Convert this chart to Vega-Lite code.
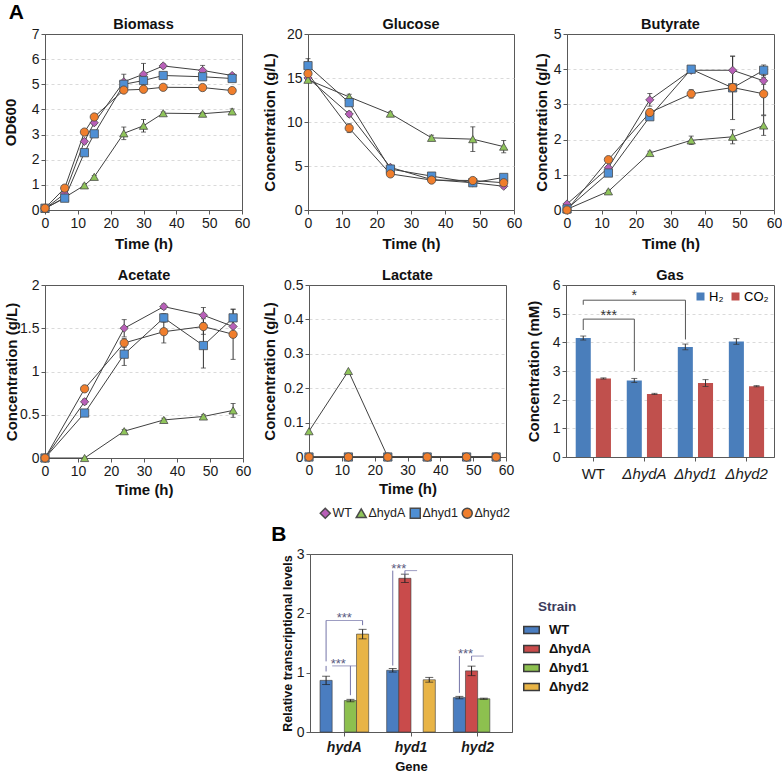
{
  "$schema": "https://vega.github.io/schema/vega-lite/v6.json",
  "padding": {"left": 2, "top": 2, "right": 0, "bottom": 0},
  "title": {"text": "A", "anchor": "start", "frame": "bounds", "fontSize": 21, "fontWeight": "bold", "offset": -7, "dx": 6, "color": "#000"},
  "datasets": {
    "g": [
      {"p":"Biomass","s":"WT","t":0,"v":0.05,"e":0.02},{"p":"Biomass","s":"WT","t":6,"v":0.65,"e":0.05},{"p":"Biomass","s":"WT","t":12,"v":2.73,"e":0.1},{"p":"Biomass","s":"WT","t":15,"v":3.47,"e":0.08},{"p":"Biomass","s":"WT","t":24,"v":5.1,"e":0.3},{"p":"Biomass","s":"WT","t":30,"v":5.4,"e":0.43},{"p":"Biomass","s":"WT","t":36,"v":5.73,"e":0.08},{"p":"Biomass","s":"WT","t":48,"v":5.55,"e":0.2},{"p":"Biomass","s":"WT","t":57,"v":5.35,"e":0.07},
      {"p":"Biomass","s":"ΔhydA","t":0,"v":0.05,"e":0.02},{"p":"Biomass","s":"ΔhydA","t":6,"v":0.5,"e":0.03},{"p":"Biomass","s":"ΔhydA","t":12,"v":0.98,"e":0.05},{"p":"Biomass","s":"ΔhydA","t":15,"v":1.32,"e":0.05},{"p":"Biomass","s":"ΔhydA","t":24,"v":3.05,"e":0.25},{"p":"Biomass","s":"ΔhydA","t":30,"v":3.35,"e":0.25},{"p":"Biomass","s":"ΔhydA","t":36,"v":3.85,"e":0.05},{"p":"Biomass","s":"ΔhydA","t":48,"v":3.83,"e":0.05},{"p":"Biomass","s":"ΔhydA","t":57,"v":3.92,"e":0.1},
      {"p":"Biomass","s":"Δhyd1","t":0,"v":0.07,"e":0.02},{"p":"Biomass","s":"Δhyd1","t":6,"v":0.47,"e":0.03},{"p":"Biomass","s":"Δhyd1","t":12,"v":2.28,"e":0.08},{"p":"Biomass","s":"Δhyd1","t":15,"v":3.03,"e":0.08},{"p":"Biomass","s":"Δhyd1","t":24,"v":5.0,"e":0.1},{"p":"Biomass","s":"Δhyd1","t":30,"v":5.15,"e":0.1},{"p":"Biomass","s":"Δhyd1","t":36,"v":5.35,"e":0.05},{"p":"Biomass","s":"Δhyd1","t":48,"v":5.3,"e":0.05},{"p":"Biomass","s":"Δhyd1","t":57,"v":5.23,"e":0.05},
      {"p":"Biomass","s":"Δhyd2","t":0,"v":0.07,"e":0.02},{"p":"Biomass","s":"Δhyd2","t":6,"v":0.87,"e":0.05},{"p":"Biomass","s":"Δhyd2","t":12,"v":3.1,"e":0.08},{"p":"Biomass","s":"Δhyd2","t":15,"v":3.7,"e":0.08},{"p":"Biomass","s":"Δhyd2","t":24,"v":4.77,"e":0.08},{"p":"Biomass","s":"Δhyd2","t":30,"v":4.8,"e":0.1},{"p":"Biomass","s":"Δhyd2","t":36,"v":4.88,"e":0.05},{"p":"Biomass","s":"Δhyd2","t":48,"v":4.87,"e":0.1},{"p":"Biomass","s":"Δhyd2","t":57,"v":4.75,"e":0.05},
      {"p":"Glucose","s":"WT","t":0,"v":15.0,"e":0.3},{"p":"Glucose","s":"WT","t":12,"v":10.9,"e":0.3},{"p":"Glucose","s":"WT","t":24,"v":4.85,"e":0.2},{"p":"Glucose","s":"WT","t":36,"v":3.45,"e":0.1},{"p":"Glucose","s":"WT","t":48,"v":3.1,"e":0.2},{"p":"Glucose","s":"WT","t":57,"v":2.7,"e":0.2},
      {"p":"Glucose","s":"ΔhydA","t":0,"v":14.8,"e":0.3},{"p":"Glucose","s":"ΔhydA","t":12,"v":12.85,"e":0.3},{"p":"Glucose","s":"ΔhydA","t":24,"v":10.95,"e":0.2},{"p":"Glucose","s":"ΔhydA","t":36,"v":8.2,"e":0.3},{"p":"Glucose","s":"ΔhydA","t":48,"v":8.05,"e":1.4},{"p":"Glucose","s":"ΔhydA","t":57,"v":7.2,"e":0.7},
      {"p":"Glucose","s":"Δhyd1","t":0,"v":16.4,"e":0.8},{"p":"Glucose","s":"Δhyd1","t":12,"v":12.2,"e":0.3},{"p":"Glucose","s":"Δhyd1","t":24,"v":4.65,"e":0.2},{"p":"Glucose","s":"Δhyd1","t":36,"v":3.85,"e":0.1},{"p":"Glucose","s":"Δhyd1","t":48,"v":3.1,"e":0.2},{"p":"Glucose","s":"Δhyd1","t":57,"v":3.7,"e":0.2},
      {"p":"Glucose","s":"Δhyd2","t":0,"v":15.5,"e":0.3},{"p":"Glucose","s":"Δhyd2","t":12,"v":9.3,"e":0.5},{"p":"Glucose","s":"Δhyd2","t":24,"v":4.1,"e":0.2},{"p":"Glucose","s":"Δhyd2","t":36,"v":3.4,"e":0.1},{"p":"Glucose","s":"Δhyd2","t":48,"v":3.35,"e":0.2},{"p":"Glucose","s":"Δhyd2","t":57,"v":3.1,"e":0.2},
      {"p":"Butyrate","s":"WT","t":0,"v":0.17,"e":0.02},{"p":"Butyrate","s":"WT","t":12,"v":1.2,"e":0.05},{"p":"Butyrate","s":"WT","t":24,"v":3.13,"e":0.18},{"p":"Butyrate","s":"WT","t":36,"v":3.97,"e":0.05},{"p":"Butyrate","s":"WT","t":48,"v":3.97,"e":0.4},{"p":"Butyrate","s":"WT","t":57,"v":3.67,"e":0.1},
      {"p":"Butyrate","s":"ΔhydA","t":0,"v":0.02,"e":0.01},{"p":"Butyrate","s":"ΔhydA","t":12,"v":0.53,"e":0.03},{"p":"Butyrate","s":"ΔhydA","t":24,"v":1.62,"e":0.05},{"p":"Butyrate","s":"ΔhydA","t":36,"v":1.98,"e":0.12},{"p":"Butyrate","s":"ΔhydA","t":48,"v":2.08,"e":0.2},{"p":"Butyrate","s":"ΔhydA","t":57,"v":2.4,"e":0.28},
      {"p":"Butyrate","s":"Δhyd1","t":0,"v":0.03,"e":0.01},{"p":"Butyrate","s":"Δhyd1","t":12,"v":1.05,"e":0.05},{"p":"Butyrate","s":"Δhyd1","t":24,"v":2.65,"e":0.08},{"p":"Butyrate","s":"Δhyd1","t":36,"v":4.0,"e":0.05},{"p":"Butyrate","s":"Δhyd1","t":48,"v":3.47,"e":0.9},{"p":"Butyrate","s":"Δhyd1","t":57,"v":3.97,"e":0.15},
      {"p":"Butyrate","s":"Δhyd2","t":0,"v":0.0,"e":0.0},{"p":"Butyrate","s":"Δhyd2","t":12,"v":1.43,"e":0.05},{"p":"Butyrate","s":"Δhyd2","t":24,"v":2.77,"e":0.05},{"p":"Butyrate","s":"Δhyd2","t":36,"v":3.3,"e":0.12},{"p":"Butyrate","s":"Δhyd2","t":48,"v":3.48,"e":0.1},{"p":"Butyrate","s":"Δhyd2","t":57,"v":3.3,"e":0.6},
      {"p":"Acetate","s":"WT","t":0,"v":0,"e":0},{"p":"Acetate","s":"WT","t":12,"v":0.65,"e":0.03},{"p":"Acetate","s":"WT","t":24,"v":1.5,"e":0.1},{"p":"Acetate","s":"WT","t":36,"v":1.75,"e":0.03},{"p":"Acetate","s":"WT","t":48,"v":1.65,"e":0.09},{"p":"Acetate","s":"WT","t":57,"v":1.52,"e":0.1},
      {"p":"Acetate","s":"ΔhydA","t":0,"v":0,"e":0},{"p":"Acetate","s":"ΔhydA","t":12,"v":0,"e":0},{"p":"Acetate","s":"ΔhydA","t":24,"v":0.31,"e":0.02},{"p":"Acetate","s":"ΔhydA","t":36,"v":0.44,"e":0.02},{"p":"Acetate","s":"ΔhydA","t":48,"v":0.48,"e":0.02},{"p":"Acetate","s":"ΔhydA","t":57,"v":0.55,"e":0.08},
      {"p":"Acetate","s":"Δhyd1","t":0,"v":0,"e":0},{"p":"Acetate","s":"Δhyd1","t":12,"v":0.52,"e":0.02},{"p":"Acetate","s":"Δhyd1","t":24,"v":1.2,"e":0.13},{"p":"Acetate","s":"Δhyd1","t":36,"v":1.62,"e":0.05},{"p":"Acetate","s":"Δhyd1","t":48,"v":1.3,"e":0.26},{"p":"Acetate","s":"Δhyd1","t":57,"v":1.62,"e":0.1},
      {"p":"Acetate","s":"Δhyd2","t":0,"v":0,"e":0},{"p":"Acetate","s":"Δhyd2","t":12,"v":0.8,"e":0.02},{"p":"Acetate","s":"Δhyd2","t":24,"v":1.33,"e":0.05},{"p":"Acetate","s":"Δhyd2","t":36,"v":1.46,"e":0.13},{"p":"Acetate","s":"Δhyd2","t":48,"v":1.52,"e":0.09},{"p":"Acetate","s":"Δhyd2","t":57,"v":1.43,"e":0.29},
      {"p":"Lactate","s":"WT","t":0,"v":0,"e":0},{"p":"Lactate","s":"WT","t":12,"v":0,"e":0},{"p":"Lactate","s":"WT","t":24,"v":0,"e":0},{"p":"Lactate","s":"WT","t":36,"v":0,"e":0},{"p":"Lactate","s":"WT","t":48,"v":0,"e":0},{"p":"Lactate","s":"WT","t":57,"v":0,"e":0},
      {"p":"Lactate","s":"ΔhydA","t":0,"v":0.075,"e":0},{"p":"Lactate","s":"ΔhydA","t":12,"v":0.25,"e":0},{"p":"Lactate","s":"ΔhydA","t":24,"v":0,"e":0},{"p":"Lactate","s":"ΔhydA","t":36,"v":0,"e":0},{"p":"Lactate","s":"ΔhydA","t":48,"v":0,"e":0},{"p":"Lactate","s":"ΔhydA","t":57,"v":0,"e":0},
      {"p":"Lactate","s":"Δhyd1","t":0,"v":0,"e":0},{"p":"Lactate","s":"Δhyd1","t":12,"v":0,"e":0},{"p":"Lactate","s":"Δhyd1","t":24,"v":0,"e":0},{"p":"Lactate","s":"Δhyd1","t":36,"v":0,"e":0},{"p":"Lactate","s":"Δhyd1","t":48,"v":0,"e":0},{"p":"Lactate","s":"Δhyd1","t":57,"v":0,"e":0},
      {"p":"Lactate","s":"Δhyd2","t":0,"v":0,"e":0},{"p":"Lactate","s":"Δhyd2","t":12,"v":0,"e":0},{"p":"Lactate","s":"Δhyd2","t":24,"v":0,"e":0},{"p":"Lactate","s":"Δhyd2","t":36,"v":0,"e":0},{"p":"Lactate","s":"Δhyd2","t":48,"v":0,"e":0},{"p":"Lactate","s":"Δhyd2","t":57,"v":0,"e":0}
    ],
    "gas": [
      {"s":"WT","g":"H₂","v":4.15,"lo":4.08,"hi":4.22},{"s":"WT","g":"CO₂","v":2.74,"lo":2.72,"hi":2.76},
      {"s":"ΔhydA","g":"H₂","v":2.67,"lo":2.6,"hi":2.74},{"s":"ΔhydA","g":"CO₂","v":2.2,"lo":2.18,"hi":2.22},
      {"s":"Δhyd1","g":"H₂","v":3.84,"lo":3.74,"hi":3.94},{"s":"Δhyd1","g":"CO₂","v":2.58,"lo":2.46,"hi":2.7},
      {"s":"Δhyd2","g":"H₂","v":4.03,"lo":3.93,"hi":4.13},{"s":"Δhyd2","g":"CO₂","v":2.47,"lo":2.45,"hi":2.49}
    ],
    "gb": [
      {"id":"a","s":"WT","y":4.43,"o":0},{"id":"a","s":"WT","y":4.81,"o":1},{"id":"a","s":"ΔhydA","y":4.81,"o":2},{"id":"a","s":"ΔhydA","y":3.0,"o":3},
      {"id":"b","s":"WT","y":5.31,"o":0},{"id":"b","s":"WT","y":5.47,"o":1},{"id":"b","s":"Δhyd1","y":5.47,"o":2},{"id":"b","s":"Δhyd1","y":4.1,"o":3}
    ],
    "gt": [
      {"s":"WT","y":4.78,"lab":"***","k":"a"},{"s":"WT","y":5.47,"lab":"*","k":"b"}
    ],
    "b": [
      {"gene":"hydA","s":"WT","v":0.87,"lo":0.8,"hi":0.94},{"gene":"hydA","s":"Δhyd1","v":0.53,"lo":0.51,"hi":0.55},{"gene":"hydA","s":"Δhyd2","v":1.65,"lo":1.57,"hi":1.73},
      {"gene":"hyd1","s":"WT","v":1.04,"lo":1.01,"hi":1.07},{"gene":"hyd1","s":"ΔhydA","v":2.59,"lo":2.52,"hi":2.66},{"gene":"hyd1","s":"Δhyd2","v":0.88,"lo":0.84,"hi":0.92},
      {"gene":"hyd2","s":"WT","v":0.58,"lo":0.56,"hi":0.6},{"gene":"hyd2","s":"ΔhydA","v":1.03,"lo":0.95,"hi":1.11},{"gene":"hyd2","s":"Δhyd1","v":0.56,"lo":0.55,"hi":0.57}
    ],
    "bl": [
      {"gene":"hydA","s":"WT","y":1.02,"y2":1.114},{"gene":"hydA","s":"WT","y":1.19,"y2":1.88},{"gene":"hyd1","s":"WT","y":1.12,"y2":2.72},{"gene":"hyd2","s":"WT","y":0.66,"y2":1.28},
      {"gene":"hydA","s":"Δhyd1","y":0.62,"y2":1.114},{"gene":"hydA","s":"Δhyd2","y":1.8,"y2":1.88},{"gene":"hyd1","s":"ΔhydA","y":2.65,"y2":2.72},{"gene":"hyd2","s":"ΔhydA","y":1.2,"y2":1.28}
    ],
    "bh": [
      {"gene":"hydA","y":1.114,"k":"m"},{"gene":"hydA","y":1.88,"k":"c"},{"gene":"hyd1","y":2.72,"k":"q"},{"gene":"hyd2","y":1.28,"k":"q"}
    ]
  },
  "spacing": 0,
  "resolve": {"scale": {"color": "independent", "shape": "independent"}, "legend": {"color": "independent", "shape": "independent"}},
  "vconcat": [
    {
      "spacing": 15,
      "resolve": {"scale": {"color": "independent", "shape": "independent"}, "legend": {"color": "independent", "shape": "independent"}},
      "vconcat": [
        {
          "spacing": 10,
          "resolve": {"scale": {"color": "independent", "shape": "independent"}, "legend": {"color": "independent", "shape": "independent"}},
          "hconcat": [
            {
              "width": 197, "height": 176, "title": "Biomass",
              "data": {"name": "g"},
              "transform": [{"filter": "datum.p == 'Biomass'"}],
              "encoding": {
                "x": {"field": "t", "type": "quantitative", "scale": {"domain": [0, 60], "nice": false}, "axis": {"values": [0, 10, 20, 30, 40, 50, 60], "title": "Time (h)", "titlePadding": 6}},
                "y": {"field": "v", "type": "quantitative", "scale": {"domain": [0, 7], "nice": false}, "axis": {"values": [0, 1, 2, 3, 4, 5, 6, 7], "title": "OD600", "titlePadding": 13, "format": "~g", "gridOpacity": {"condition": {"test": "datum.index == 1", "value": 0}, "value": 1}}}
              },
              "layer": [
                {"mark": {"type": "line", "color": "#404040", "strokeWidth": 1}, "encoding": {"detail": {"field": "s"}}},
                {"mark": {"type": "errorbar", "ticks": {"size": 5}, "color": "#333333", "thickness": 1}, "encoding": {"yError": {"field": "e"}}},
                {"mark": {"type": "point", "filled": true, "size": 68, "opacity": 1, "stroke": "#4a4a4a", "strokeWidth": 0.8},
                 "encoding": {"color": {"field": "s", "type": "nominal", "scale": {"domain": ["WT", "ΔhydA", "Δhyd1", "Δhyd2"], "range": ["#B85FB8", "#8FC45A", "#4F8FD4", "#F07E2C"]}, "legend": null},
                              "shape": {"field": "s", "type": "nominal", "scale": {"domain": ["WT", "ΔhydA", "Δhyd1", "Δhyd2"], "range": ["diamond", "triangle-up", "square", "circle"]}, "legend": null}}}
              ]
            },
            {
              "width": 206, "height": 176, "title": "Glucose",
              "data": {"name": "g"},
              "transform": [{"filter": "datum.p == 'Glucose'"}],
              "encoding": {
                "x": {"field": "t", "type": "quantitative", "scale": {"domain": [0, 60], "nice": false}, "axis": {"values": [0, 10, 20, 30, 40, 50, 60], "title": "Time (h)", "titlePadding": 6}},
                "y": {"field": "v", "type": "quantitative", "scale": {"domain": [0, 20], "nice": false}, "axis": {"values": [0, 5, 10, 15, 20], "title": "Concentration (g/L)", "titlePadding": 9, "format": "~g", "gridOpacity": {"condition": {"test": "datum.index == 1", "value": 0}, "value": 1}}}
              },
              "layer": [
                {"mark": {"type": "line", "color": "#404040", "strokeWidth": 1}, "encoding": {"detail": {"field": "s"}}},
                {"mark": {"type": "errorbar", "ticks": {"size": 5}, "color": "#333333", "thickness": 1}, "encoding": {"yError": {"field": "e"}}},
                {"mark": {"type": "point", "filled": true, "size": 68, "opacity": 1, "stroke": "#4a4a4a", "strokeWidth": 0.8},
                 "encoding": {"color": {"field": "s", "type": "nominal", "scale": {"domain": ["WT", "ΔhydA", "Δhyd1", "Δhyd2"], "range": ["#B85FB8", "#8FC45A", "#4F8FD4", "#F07E2C"]}, "legend": null},
                              "shape": {"field": "s", "type": "nominal", "scale": {"domain": ["WT", "ΔhydA", "Δhyd1", "Δhyd2"], "range": ["diamond", "triangle-up", "square", "circle"]}, "legend": null}}}
              ]
            },
            {
              "width": 207, "height": 176, "title": "Butyrate",
              "data": {"name": "g"},
              "transform": [{"filter": "datum.p == 'Butyrate'"}],
              "encoding": {
                "x": {"field": "t", "type": "quantitative", "scale": {"domain": [0, 60], "nice": false}, "axis": {"values": [0, 10, 20, 30, 40, 50, 60], "title": "Time (h)", "titlePadding": 6}},
                "y": {"field": "v", "type": "quantitative", "scale": {"domain": [0, 5], "nice": false}, "axis": {"values": [0, 1, 2, 3, 4, 5], "title": "Concentration (g/L)", "titlePadding": 4, "format": "~g", "gridOpacity": {"condition": {"test": "datum.index == 1", "value": 0}, "value": 1}}}
              },
              "layer": [
                {"mark": {"type": "line", "color": "#404040", "strokeWidth": 1}, "encoding": {"detail": {"field": "s"}}},
                {"mark": {"type": "errorbar", "ticks": {"size": 5}, "color": "#333333", "thickness": 1}, "encoding": {"yError": {"field": "e"}}},
                {"mark": {"type": "point", "filled": true, "size": 68, "opacity": 1, "stroke": "#4a4a4a", "strokeWidth": 0.8},
                 "encoding": {"color": {"field": "s", "type": "nominal", "scale": {"domain": ["WT", "ΔhydA", "Δhyd1", "Δhyd2"], "range": ["#B85FB8", "#8FC45A", "#4F8FD4", "#F07E2C"]}, "legend": null},
                              "shape": {"field": "s", "type": "nominal", "scale": {"domain": ["WT", "ΔhydA", "Δhyd1", "Δhyd2"], "range": ["diamond", "triangle-up", "square", "circle"]}, "legend": null}}}
              ]
            }
          ]
        },
        {
          "spacing": 10,
          "resolve": {"scale": {"color": "independent", "shape": "independent"}, "legend": {"color": "independent", "shape": "independent"}},
          "hconcat": [
            {
              "width": 198, "height": 173, "title": "Acetate",
              "data": {"name": "g"},
              "transform": [{"filter": "datum.p == 'Acetate'"}],
              "encoding": {
                "x": {"field": "t", "type": "quantitative", "scale": {"domain": [0, 60], "nice": false}, "axis": {"values": [0, 10, 20, 30, 40, 50, 60], "title": "Time (h)", "titlePadding": 4}},
                "y": {"field": "v", "type": "quantitative", "scale": {"domain": [0, 2], "nice": false}, "axis": {"values": [0, 0.5, 1, 1.5, 2], "title": "Concentration (g/L)", "titlePadding": 0.5, "format": "~g", "gridOpacity": {"condition": {"test": "datum.index == 1", "value": 0}, "value": 1}}}
              },
              "layer": [
                {"mark": {"type": "line", "color": "#404040", "strokeWidth": 1}, "encoding": {"detail": {"field": "s"}}},
                {"mark": {"type": "errorbar", "ticks": {"size": 5}, "color": "#333333", "thickness": 1}, "encoding": {"yError": {"field": "e"}}},
                {"mark": {"type": "point", "filled": true, "size": 68, "opacity": 1, "stroke": "#4a4a4a", "strokeWidth": 0.8},
                 "encoding": {"color": {"field": "s", "type": "nominal", "scale": {"domain": ["WT", "ΔhydA", "Δhyd1", "Δhyd2"], "range": ["#B85FB8", "#8FC45A", "#4F8FD4", "#F07E2C"]}, "legend": null},
                              "shape": {"field": "s", "type": "nominal", "scale": {"domain": ["WT", "ΔhydA", "Δhyd1", "Δhyd2"], "range": ["diamond", "triangle-up", "square", "circle"]}, "legend": null}}}
              ]
            },
            {
              "width": 197, "height": 172, "title": "Lactate",
              "data": {"name": "g"},
              "transform": [{"filter": "datum.p == 'Lactate'"}],
              "encoding": {
                "x": {"field": "t", "type": "quantitative", "scale": {"domain": [0, 60], "nice": false}, "axis": {"values": [0, 10, 20, 30, 40, 50, 60], "title": "Time (h)", "titlePadding": 4}},
                "y": {"field": "v", "type": "quantitative", "scale": {"domain": [0, 0.5], "nice": false}, "axis": {"values": [0, 0.1, 0.2, 0.3, 0.4, 0.5], "title": "Concentration (g/L)", "titlePadding": 6, "format": "~g", "gridOpacity": {"condition": {"test": "datum.index == 1", "value": 0}, "value": 1}}}
              },
              "layer": [
                {"mark": {"type": "line", "color": "#404040", "strokeWidth": 1}, "encoding": {"detail": {"field": "s"}}},
                {"mark": {"type": "point", "filled": true, "size": 68, "opacity": 1, "stroke": "#4a4a4a", "strokeWidth": 0.8},
                 "encoding": {"color": {"field": "s", "type": "nominal", "scale": {"domain": ["WT", "ΔhydA", "Δhyd1", "Δhyd2"], "range": ["#B85FB8", "#8FC45A", "#4F8FD4", "#F07E2C"]},
                                        "legend": {"orient": "none", "legendX": 10, "legendY": 222, "direction": "horizontal", "gridAlign": "none", "title": null, "labelFontSize": 12.5, "labelColor": "#222", "symbolSize": 100, "labelOffset": 1, "columnPadding": 1,
                                                   "encode": {"symbols": {"shape": {"value": {"expr": "datum.value == 'WT' ? 'M-1,0H-0.36M0.36,0H1M0,-0.48L0.36,0L0,0.48L-0.36,0Z' : datum.value == 'ΔhydA' ? 'M-1,0H-0.32M0.32,0H1M0,-0.42L0.42,0.34L-0.42,0.34Z' : datum.value == 'Δhyd1' ? 'M-1,0H-0.34M0.34,0H1M-0.34,-0.34H0.34V0.34H-0.34Z' : 'M-1,0H-0.36M0.36,0H1M-0.36,0A0.36,0.36,0,1,0,0.36,0A0.36,0.36,0,1,0,-0.36,0Z'"}}, "stroke": {"value": "#666666"}, "strokeWidth": {"value": 1}}}}},
                              "shape": {"field": "s", "type": "nominal", "scale": {"domain": ["WT", "ΔhydA", "Δhyd1", "Δhyd2"], "range": ["diamond", "triangle-up", "square", "circle"]}, "legend": null}}}
              ]
            },
            {
              "width": 208, "height": 172, "title": "Gas",
              "resolve": {"scale": {"x": "independent"}, "axis": {"x": "independent"}},
              "layer": [
                {"data": {"name": "gas"}, "transform": [{"filter": "datum.g == 'H₂'"}], "mark": {"type": "bar"},
                 "encoding": {
                   "x": {"field": "s", "type": "nominal", "sort": null, "scale": {"type": "band", "domain": ["WT", "ΔhydA", "Δhyd1", "Δhyd2"], "paddingInner": 0.705, "paddingOuter": 0.39, "align": 0.244}, "axis": null},
                   "y": {"field": "v", "type": "quantitative", "scale": {"domain": [0, 6], "nice": false}, "axis": {"values": [0, 1, 2, 3, 4, 5, 6], "title": "Concentration (mM)", "titlePadding": 11, "format": "~g", "gridOpacity": {"condition": {"test": "datum.index == 1", "value": 0}, "value": 1}}},
                   "color": {"field": "g", "type": "nominal", "sort": null, "scale": {"domain": ["H₂", "CO₂"], "range": ["#4A7EBB", "#C0504D"]},
                             "legend": {"orient": "top-right", "direction": "horizontal", "gridAlign": "none", "title": null, "symbolType": "square", "symbolSize": 64, "labelFontSize": 13, "labelOffset": 2, "columnPadding": 5, "offset": 5, "symbolStrokeWidth": 0}}
                 }},
                {"data": {"name": "gas"}, "transform": [{"filter": "datum.g == 'CO₂'"}], "mark": {"type": "bar"},
                 "encoding": {
                   "x": {"field": "s", "type": "nominal", "sort": null, "scale": {"type": "band", "domain": ["WT", "ΔhydA", "Δhyd1", "Δhyd2"], "paddingInner": 0.705, "paddingOuter": 0.39, "align": 0.751}, "axis": null},
                   "y": {"field": "v", "type": "quantitative", "axis": {"values": [0, 1, 2, 3, 4, 5, 6], "title": "Concentration (mM)", "titlePadding": 11, "format": "~g", "gridOpacity": {"condition": {"test": "datum.index == 1", "value": 0}, "value": 1}}},
                   "color": {"field": "g", "type": "nominal", "sort": null, "scale": {"domain": ["H₂", "CO₂"], "range": ["#4A7EBB", "#C0504D"]},
                             "legend": {"orient": "top-right", "direction": "horizontal", "gridAlign": "none", "title": null, "symbolType": "square", "symbolSize": 64, "labelFontSize": 13, "labelOffset": 2, "columnPadding": 5, "offset": 5, "symbolStrokeWidth": 0}}
                 }},
                {"data": {"name": "gas"}, "transform": [{"filter": "datum.g == 'H₂'"}], "mark": {"type": "errorbar", "ticks": {"size": 6}, "color": "#333333", "thickness": 1},
                 "encoding": {
                   "x": {"field": "s", "type": "nominal", "sort": null, "scale": {"type": "band", "domain": ["WT", "ΔhydA", "Δhyd1", "Δhyd2"], "paddingInner": 0.705, "paddingOuter": 0.39, "align": 0.244}, "axis": null},
                   "y": {"field": "lo", "type": "quantitative", "axis": {"values": [0, 1, 2, 3, 4, 5, 6], "title": "Concentration (mM)", "titlePadding": 11, "format": "~g", "gridOpacity": {"condition": {"test": "datum.index == 1", "value": 0}, "value": 1}}},
                   "y2": {"field": "hi"}
                 }},
                {"data": {"name": "gas"}, "transform": [{"filter": "datum.g == 'CO₂'"}], "mark": {"type": "errorbar", "ticks": {"size": 6}, "color": "#333333", "thickness": 1},
                 "encoding": {
                   "x": {"field": "s", "type": "nominal", "sort": null, "scale": {"type": "band", "domain": ["WT", "ΔhydA", "Δhyd1", "Δhyd2"], "paddingInner": 0.705, "paddingOuter": 0.39, "align": 0.751}, "axis": null},
                   "y": {"field": "lo", "type": "quantitative", "axis": {"values": [0, 1, 2, 3, 4, 5, 6], "title": "Concentration (mM)", "titlePadding": 11, "format": "~g", "gridOpacity": {"condition": {"test": "datum.index == 1", "value": 0}, "value": 1}}},
                   "y2": {"field": "hi"}
                 }},
                {"data": {"name": "gb"}, "mark": {"type": "line", "color": "#555555", "strokeWidth": 1},
                 "encoding": {
                   "x": {"field": "s", "type": "nominal", "sort": null, "bandPosition": 0.2135, "scale": {"type": "band", "domain": ["WT", "ΔhydA", "Δhyd1", "Δhyd2"], "paddingInner": 0.31, "paddingOuter": 0.19},
                         "axis": {"orient": "bottom", "title": null, "labelAngle": 0, "labelFontSize": 15, "labelPadding": 5, "labelFontStyle": {"condition": {"test": "datum.value == 'WT'", "value": "normal"}, "value": "italic"}}},
                   "y": {"field": "y", "type": "quantitative", "axis": {"values": [0, 1, 2, 3, 4, 5, 6], "title": "Concentration (mM)", "titlePadding": 11, "format": "~g", "gridOpacity": {"condition": {"test": "datum.index == 1", "value": 0}, "value": 1}}},
                   "detail": {"field": "id"},
                   "order": {"field": "o", "type": "quantitative"}
                 }},
                {"data": {"name": "gt"}, "transform": [{"filter": "datum.k == 'a'"}], "mark": {"type": "text", "fontSize": 14, "color": "#333333", "baseline": "alphabetic"},
                 "encoding": {
                   "x": {"field": "s", "type": "nominal", "sort": null, "bandPosition": 0.938, "scale": {"type": "band", "domain": ["WT", "ΔhydA", "Δhyd1", "Δhyd2"], "paddingInner": 0.31, "paddingOuter": 0.19}, "axis": null},
                   "y": {"field": "y", "type": "quantitative", "axis": {"values": [0, 1, 2, 3, 4, 5, 6], "title": "Concentration (mM)", "titlePadding": 11, "format": "~g", "gridOpacity": {"condition": {"test": "datum.index == 1", "value": 0}, "value": 1}}},
                   "text": {"field": "lab"}
                 }},
                {"data": {"name": "gt"}, "transform": [{"filter": "datum.k == 'b'"}], "mark": {"type": "text", "fontSize": 14, "color": "#333333", "baseline": "alphabetic"},
                 "encoding": {
                   "x": {"field": "s", "type": "nominal", "sort": null, "bandPosition": 1.662, "scale": {"type": "band", "domain": ["WT", "ΔhydA", "Δhyd1", "Δhyd2"], "paddingInner": 0.31, "paddingOuter": 0.19}, "axis": null},
                   "y": {"field": "y", "type": "quantitative", "axis": {"values": [0, 1, 2, 3, 4, 5, 6], "title": "Concentration (mM)", "titlePadding": 11, "format": "~g", "gridOpacity": {"condition": {"test": "datum.index == 1", "value": 0}, "value": 1}}},
                   "text": {"field": "lab"}
                 }}
              ]
            }
          ]
        }
      ]
    },
    {
      "spacing": 0,
      "resolve": {"scale": {"color": "independent", "shape": "independent"}, "legend": {"color": "independent", "shape": "independent"}},
      "hconcat": [
        {"width": 225, "height": 10, "view": {"stroke": null}, "data": {"values": []}, "mark": "point"},
        {
          "width": 202, "height": 178,
          "title": {"text": "B", "anchor": "start", "frame": "bounds", "fontSize": 21, "fontWeight": "bold", "offset": 2, "dx": -10, "color": "#000"},
          "resolve": {"scale": {"x": "independent"}, "axis": {"x": "independent"}},
          "layer": [
            {"data": {"name": "b"}, "transform": [{"filter": "datum.s == 'WT'"}], "mark": {"type": "bar", "stroke": "#3a3a3a", "strokeWidth": 0.6},
             "encoding": {
               "x": {"field": "gene", "type": "nominal", "sort": null, "scale": {"type": "band", "domain": ["hydA", "hyd1", "hyd2"], "paddingInner": 0.8175, "paddingOuter": 0.424, "align": 0.177}, "axis": null},
               "y": {"field": "v", "type": "quantitative", "scale": {"domain": [0, 3], "nice": false}, "axis": {"values": [0, 1, 2, 3], "grid": false, "title": "Relative transcriptional levels", "titleFontSize": 12.5, "titlePadding": 2, "format": "~g"}},
               "color": {"field": "s", "type": "nominal", "sort": null, "scale": {"domain": ["WT", "ΔhydA", "Δhyd1", "Δhyd2"], "range": ["#4A7DC0", "#C94B4B", "#8DC04F", "#E8B446"]},
                         "legend": {"orient": "none", "legendX": 213, "legendY": 46, "title": "Strain", "titleFontSize": 13.5, "titleColor": "#3C3C5C", "titleAnchor": "middle", "titlePadding": 8, "labelFontSize": 13, "labelFontWeight": "bold", "labelColor": "#111111", "symbolType": "M-1,-0.45H1V0.45H-1Z", "symbolSize": 240, "rowPadding": 3, "labelOffset": 9,
                                    "encode": {"labels": {"fontStyle": {"value": {"expr": "datum.value == 'WT' ? 'normal' : 'italic'"}}}, "symbols": {"stroke": {"value": "#333333"}, "strokeWidth": {"value": 0.8}}}}}
             }},
            {"data": {"name": "b"}, "transform": [{"filter": "datum.s == 'ΔhydA'"}], "mark": {"type": "bar", "stroke": "#3a3a3a", "strokeWidth": 0.6},
             "encoding": {
               "x": {"field": "gene", "type": "nominal", "sort": null, "scale": {"type": "band", "domain": ["hydA", "hyd1", "hyd2"], "paddingInner": 0.8175, "paddingOuter": 0.424, "align": 0.392}, "axis": null},
               "y": {"field": "v", "type": "quantitative", "axis": {"values": [0, 1, 2, 3], "grid": false, "title": "Relative transcriptional levels", "titleFontSize": 12.5, "titlePadding": 2, "format": "~g"}},
               "color": {"field": "s", "type": "nominal", "sort": null, "scale": {"domain": ["WT", "ΔhydA", "Δhyd1", "Δhyd2"], "range": ["#4A7DC0", "#C94B4B", "#8DC04F", "#E8B446"]}}
             }},
            {"data": {"name": "b"}, "transform": [{"filter": "datum.s == 'Δhyd1'"}], "mark": {"type": "bar", "stroke": "#3a3a3a", "strokeWidth": 0.6},
             "encoding": {
               "x": {"field": "gene", "type": "nominal", "sort": null, "scale": {"type": "band", "domain": ["hydA", "hyd1", "hyd2"], "paddingInner": 0.8175, "paddingOuter": 0.424, "align": 0.608}, "axis": null},
               "y": {"field": "v", "type": "quantitative", "axis": {"values": [0, 1, 2, 3], "grid": false, "title": "Relative transcriptional levels", "titleFontSize": 12.5, "titlePadding": 2, "format": "~g"}},
               "color": {"field": "s", "type": "nominal", "sort": null, "scale": {"domain": ["WT", "ΔhydA", "Δhyd1", "Δhyd2"], "range": ["#4A7DC0", "#C94B4B", "#8DC04F", "#E8B446"]}}
             }},
            {"data": {"name": "b"}, "transform": [{"filter": "datum.s == 'Δhyd2'"}], "mark": {"type": "bar", "stroke": "#3a3a3a", "strokeWidth": 0.6},
             "encoding": {
               "x": {"field": "gene", "type": "nominal", "sort": null, "scale": {"type": "band", "domain": ["hydA", "hyd1", "hyd2"], "paddingInner": 0.8175, "paddingOuter": 0.424, "align": 0.823}, "axis": null},
               "y": {"field": "v", "type": "quantitative", "axis": {"values": [0, 1, 2, 3], "grid": false, "title": "Relative transcriptional levels", "titleFontSize": 12.5, "titlePadding": 2, "format": "~g"}},
               "color": {"field": "s", "type": "nominal", "sort": null, "scale": {"domain": ["WT", "ΔhydA", "Δhyd1", "Δhyd2"], "range": ["#4A7DC0", "#C94B4B", "#8DC04F", "#E8B446"]}}
             }},
            {"data": {"name": "b"}, "transform": [{"filter": "datum.s == 'WT'"}], "mark": {"type": "errorbar", "ticks": {"size": 8}, "color": "#222222", "thickness": 1},
             "encoding": {
               "x": {"field": "gene", "type": "nominal", "sort": null, "scale": {"type": "band", "domain": ["hydA", "hyd1", "hyd2"], "paddingInner": 0.8175, "paddingOuter": 0.424, "align": 0.177}, "axis": null},
               "y": {"field": "lo", "type": "quantitative", "axis": {"values": [0, 1, 2, 3], "grid": false, "title": "Relative transcriptional levels", "titleFontSize": 12.5, "titlePadding": 2, "format": "~g"}}, "y2": {"field": "hi"}
             }},
            {"data": {"name": "b"}, "transform": [{"filter": "datum.s == 'ΔhydA'"}], "mark": {"type": "errorbar", "ticks": {"size": 8}, "color": "#222222", "thickness": 1},
             "encoding": {
               "x": {"field": "gene", "type": "nominal", "sort": null, "scale": {"type": "band", "domain": ["hydA", "hyd1", "hyd2"], "paddingInner": 0.8175, "paddingOuter": 0.424, "align": 0.392}, "axis": null},
               "y": {"field": "lo", "type": "quantitative", "axis": {"values": [0, 1, 2, 3], "grid": false, "title": "Relative transcriptional levels", "titleFontSize": 12.5, "titlePadding": 2, "format": "~g"}}, "y2": {"field": "hi"}
             }},
            {"data": {"name": "b"}, "transform": [{"filter": "datum.s == 'Δhyd1'"}], "mark": {"type": "errorbar", "ticks": {"size": 8}, "color": "#222222", "thickness": 1},
             "encoding": {
               "x": {"field": "gene", "type": "nominal", "sort": null, "scale": {"type": "band", "domain": ["hydA", "hyd1", "hyd2"], "paddingInner": 0.8175, "paddingOuter": 0.424, "align": 0.608}, "axis": null},
               "y": {"field": "lo", "type": "quantitative", "axis": {"values": [0, 1, 2, 3], "grid": false, "title": "Relative transcriptional levels", "titleFontSize": 12.5, "titlePadding": 2, "format": "~g"}}, "y2": {"field": "hi"}
             }},
            {"data": {"name": "b"}, "transform": [{"filter": "datum.s == 'Δhyd2'"}], "mark": {"type": "errorbar", "ticks": {"size": 8}, "color": "#222222", "thickness": 1},
             "encoding": {
               "x": {"field": "gene", "type": "nominal", "sort": null, "scale": {"type": "band", "domain": ["hydA", "hyd1", "hyd2"], "paddingInner": 0.8175, "paddingOuter": 0.424, "align": 0.823}, "axis": null},
               "y": {"field": "lo", "type": "quantitative", "axis": {"values": [0, 1, 2, 3], "grid": false, "title": "Relative transcriptional levels", "titleFontSize": 12.5, "titlePadding": 2, "format": "~g"}}, "y2": {"field": "hi"}
             }},
            {"data": {"name": "bl"}, "transform": [{"filter": "datum.s == 'WT'"}], "mark": {"type": "rule", "color": "#7474A8", "strokeWidth": 1},
             "encoding": {
               "x": {"field": "gene", "type": "nominal", "sort": null, "bandPosition": 0.125, "scale": {"type": "band", "domain": ["hydA", "hyd1", "hyd2"], "paddingInner": 0.27, "paddingOuter": 0.15},
                     "axis": {"orient": "bottom", "title": "Gene", "titleFontSize": 13, "titlePadding": 6, "labelFontSize": 14, "labelFontWeight": "bold", "labelFontStyle": "italic", "labelAngle": 0, "labelPadding": 4}},
               "y": {"field": "y", "type": "quantitative", "axis": {"values": [0, 1, 2, 3], "grid": false, "title": "Relative transcriptional levels", "titleFontSize": 12.5, "titlePadding": 2, "format": "~g"}}, "y2": {"field": "y2"}
             }},
            {"data": {"name": "bl"}, "transform": [{"filter": "datum.s == 'ΔhydA'"}], "mark": {"type": "rule", "color": "#7474A8", "strokeWidth": 1},
             "encoding": {
               "x": {"field": "gene", "type": "nominal", "sort": null, "bandPosition": 0.375, "scale": {"type": "band", "domain": ["hydA", "hyd1", "hyd2"], "paddingInner": 0.27, "paddingOuter": 0.15}, "axis": null},
               "y": {"field": "y", "type": "quantitative", "axis": {"values": [0, 1, 2, 3], "grid": false, "title": "Relative transcriptional levels", "titleFontSize": 12.5, "titlePadding": 2, "format": "~g"}}, "y2": {"field": "y2"}
             }},
            {"data": {"name": "bl"}, "transform": [{"filter": "datum.s == 'Δhyd1'"}], "mark": {"type": "rule", "color": "#7474A8", "strokeWidth": 1},
             "encoding": {
               "x": {"field": "gene", "type": "nominal", "sort": null, "bandPosition": 0.625, "scale": {"type": "band", "domain": ["hydA", "hyd1", "hyd2"], "paddingInner": 0.27, "paddingOuter": 0.15}, "axis": null},
               "y": {"field": "y", "type": "quantitative", "axis": {"values": [0, 1, 2, 3], "grid": false, "title": "Relative transcriptional levels", "titleFontSize": 12.5, "titlePadding": 2, "format": "~g"}}, "y2": {"field": "y2"}
             }},
            {"data": {"name": "bl"}, "transform": [{"filter": "datum.s == 'Δhyd2'"}], "mark": {"type": "rule", "color": "#7474A8", "strokeWidth": 1},
             "encoding": {
               "x": {"field": "gene", "type": "nominal", "sort": null, "bandPosition": 0.875, "scale": {"type": "band", "domain": ["hydA", "hyd1", "hyd2"], "paddingInner": 0.27, "paddingOuter": 0.15}, "axis": null},
               "y": {"field": "y", "type": "quantitative", "axis": {"values": [0, 1, 2, 3], "grid": false, "title": "Relative transcriptional levels", "titleFontSize": 12.5, "titlePadding": 2, "format": "~g"}}, "y2": {"field": "y2"}
             }},
            {"data": {"name": "bh"}, "transform": [{"filter": "datum.k == 'm'"}], "mark": {"type": "tick", "color": "#7474A8", "size": 24.3, "thickness": 1},
             "encoding": {
               "x": {"field": "gene", "type": "nominal", "sort": null, "bandPosition": 0.375, "scale": {"type": "band", "domain": ["hydA", "hyd1", "hyd2"], "paddingInner": 0.27, "paddingOuter": 0.15}, "axis": null},
               "y": {"field": "y", "type": "quantitative", "axis": {"values": [0, 1, 2, 3], "grid": false, "title": "Relative transcriptional levels", "titleFontSize": 12.5, "titlePadding": 2, "format": "~g"}}
             }},
            {"data": {"name": "bh"}, "transform": [{"filter": "datum.k == 'c'"}], "mark": {"type": "tick", "color": "#7474A8", "size": 36.5, "thickness": 1},
             "encoding": {
               "x": {"field": "gene", "type": "nominal", "sort": null, "bandPosition": 0.5, "scale": {"type": "band", "domain": ["hydA", "hyd1", "hyd2"], "paddingInner": 0.27, "paddingOuter": 0.15}, "axis": null},
               "y": {"field": "y", "type": "quantitative", "axis": {"values": [0, 1, 2, 3], "grid": false, "title": "Relative transcriptional levels", "titleFontSize": 12.5, "titlePadding": 2, "format": "~g"}}
             }},
            {"data": {"name": "bh"}, "transform": [{"filter": "datum.k == 'q'"}], "mark": {"type": "tick", "color": "#7474A8", "size": 12.2, "thickness": 1},
             "encoding": {
               "x": {"field": "gene", "type": "nominal", "sort": null, "bandPosition": 0.25, "scale": {"type": "band", "domain": ["hydA", "hyd1", "hyd2"], "paddingInner": 0.27, "paddingOuter": 0.15}, "axis": null},
               "y": {"field": "y", "type": "quantitative", "axis": {"values": [0, 1, 2, 3], "grid": false, "title": "Relative transcriptional levels", "titleFontSize": 12.5, "titlePadding": 2, "format": "~g"}}
             }},
            {"data": {"name": "bh"}, "transform": [{"filter": "datum.k == 'm'"}], "mark": {"type": "text", "text": "***", "fontSize": 13, "color": "#5A5A80", "baseline": "alphabetic", "dy": 2},
             "encoding": {
               "x": {"field": "gene", "type": "nominal", "sort": null, "bandPosition": 0.375, "scale": {"type": "band", "domain": ["hydA", "hyd1", "hyd2"], "paddingInner": 0.27, "paddingOuter": 0.15}, "axis": null},
               "y": {"field": "y", "type": "quantitative", "axis": {"values": [0, 1, 2, 3], "grid": false, "title": "Relative transcriptional levels", "titleFontSize": 12.5, "titlePadding": 2, "format": "~g"}}
             }},
            {"data": {"name": "bh"}, "transform": [{"filter": "datum.k == 'c'"}], "mark": {"type": "text", "text": "***", "fontSize": 13, "color": "#5A5A80", "baseline": "alphabetic", "dy": 2},
             "encoding": {
               "x": {"field": "gene", "type": "nominal", "sort": null, "bandPosition": 0.5, "scale": {"type": "band", "domain": ["hydA", "hyd1", "hyd2"], "paddingInner": 0.27, "paddingOuter": 0.15}, "axis": null},
               "y": {"field": "y", "type": "quantitative", "axis": {"values": [0, 1, 2, 3], "grid": false, "title": "Relative transcriptional levels", "titleFontSize": 12.5, "titlePadding": 2, "format": "~g"}}
             }},
            {"data": {"name": "bh"}, "transform": [{"filter": "datum.k == 'q'"}], "mark": {"type": "text", "text": "***", "fontSize": 13, "color": "#5A5A80", "baseline": "alphabetic", "dy": 2},
             "encoding": {
               "x": {"field": "gene", "type": "nominal", "sort": null, "bandPosition": 0.25, "scale": {"type": "band", "domain": ["hydA", "hyd1", "hyd2"], "paddingInner": 0.27, "paddingOuter": 0.15}, "axis": null},
               "y": {"field": "y", "type": "quantitative", "axis": {"values": [0, 1, 2, 3], "grid": false, "title": "Relative transcriptional levels", "titleFontSize": 12.5, "titlePadding": 2, "format": "~g"}}
             }}
          ]
        }
      ]
    }
  ],
  "config": {
    "font": "Liberation Sans",
    "view": {"stroke": "#595959", "strokeWidth": 1},
    "axis": {"labelFont": "Liberation Sans", "titleFont": "Liberation Sans", "labelFontSize": 14, "titleFontSize": 15, "titleFontWeight": "bold", "labelColor": "#1a1a1a", "titleColor": "#111111", "domainColor": "#595959", "tickColor": "#595959", "tickSize": 4, "labelPadding": 2, "gridColor": "#d0d0d0", "gridDash": [3, 3], "gridWidth": 0.8, "labelFlush": false},
    "axisX": {"grid": false},
    "axisY": {"grid": true},
    "title": {"font": "Liberation Sans", "fontSize": 14.5, "fontWeight": "bold", "color": "#111111", "offset": -5},
    "legend": {"labelFont": "Liberation Sans", "titleFont": "Liberation Sans"}
  }
}
